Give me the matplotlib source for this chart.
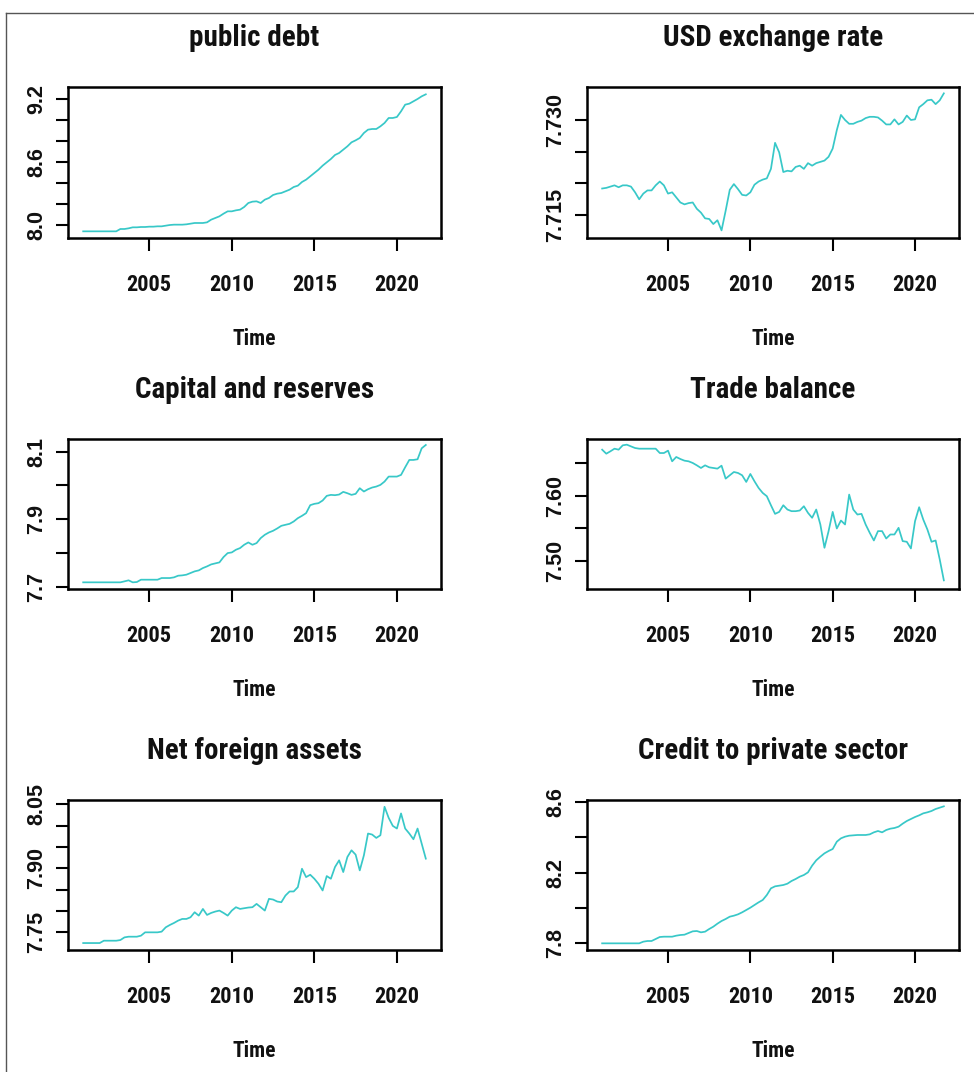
import numpy as np
import matplotlib
matplotlib.use("Agg")
import matplotlib.pyplot as plt
from matplotlib.lines import Line2D

# ---- data (quarterly, 2001Q1 - 2021Q4) ----
start_year = 2001.0
freq = 4

public_debt = [7.9365, 7.9365, 7.9365, 7.9365, 7.9365, 7.9365, 7.9365, 7.9365, 7.9365, 7.9587,
               7.9587, 7.9651, 7.9746, 7.9746, 7.9778, 7.9778, 7.9810, 7.9810, 7.9841, 7.9841,
               7.9905, 7.9968, 8.0000, 8.0000, 8.0000, 8.0032, 8.0095, 8.0159, 8.0159, 8.0159,
               8.0222, 8.0476, 8.0635, 8.0794, 8.1048, 8.1270, 8.1270, 8.1365, 8.1429, 8.1683,
               8.2063, 8.2190, 8.2222, 8.2063, 8.2381, 8.2540, 8.2825, 8.2952, 8.3016, 8.3175,
               8.3333, 8.3587, 8.3714, 8.4063, 8.4286, 8.4603, 8.4921, 8.5238, 8.5619, 8.5937,
               8.6254, 8.6635, 8.6825, 8.7143, 8.7460, 8.7841, 8.8032, 8.8254, 8.8730, 8.9048,
               8.9111, 8.9111, 8.9365, 8.9683, 9.0159, 9.0159, 9.0254, 9.0794, 9.1429, 9.1524,
               9.1746, 9.1968, 9.2222, 9.2413]

usd_rate = [7.7192, 7.7193, 7.7195, 7.7197, 7.7194, 7.7197, 7.7197, 7.7195, 7.7186, 7.7175,
            7.7184, 7.7189, 7.7189, 7.7197, 7.7203, 7.7197, 7.7184, 7.7186, 7.7178, 7.7170,
            7.7167, 7.7169, 7.7170, 7.7160, 7.7154, 7.7145, 7.7144, 7.7136, 7.7142, 7.7126,
            7.7157, 7.7190, 7.7199, 7.7191, 7.7182, 7.7181, 7.7186, 7.7198, 7.7203, 7.7206,
            7.7208, 7.7223, 7.7264, 7.7249, 7.7218, 7.7220, 7.7219, 7.7226, 7.7228, 7.7223,
            7.7232, 7.7228, 7.7232, 7.7234, 7.7236, 7.7242, 7.7255, 7.7284, 7.7308, 7.7300,
            7.7294, 7.7294, 7.7297, 7.7299, 7.7303, 7.7305, 7.7305, 7.7304, 7.7299, 7.7293,
            7.7293, 7.7301, 7.7293, 7.7297, 7.7307, 7.7300, 7.7301, 7.7320, 7.7325, 7.7331,
            7.7332, 7.7325, 7.7331, 7.7342]

capital_reserves = [7.7138, 7.7138, 7.7138, 7.7138, 7.7138, 7.7138, 7.7138, 7.7138, 7.7138, 7.7138,
                    7.7167, 7.7197, 7.7138, 7.7147, 7.7216, 7.7216, 7.7216, 7.7216, 7.7216, 7.7265,
                    7.7265, 7.7265, 7.7285, 7.7334, 7.7344, 7.7364, 7.7413, 7.7462, 7.7491, 7.7560,
                    7.7609, 7.7668, 7.7698, 7.7727, 7.7885, 7.8002, 7.8022, 7.8101, 7.8150, 7.8248,
                    7.8317, 7.8248, 7.8297, 7.8445, 7.8543, 7.8612, 7.8661, 7.8730, 7.8808, 7.8838,
                    7.8867, 7.8936, 7.9034, 7.9103, 7.9182, 7.9418, 7.9457, 7.9477, 7.9555, 7.9693,
                    7.9722, 7.9713, 7.9732, 7.9811, 7.9771, 7.9722, 7.9752, 7.9919, 7.9821, 7.9889,
                    7.9939, 7.9968, 8.0017, 8.0115, 8.0263, 8.0263, 8.0263, 8.0312, 8.0538, 8.0754,
                    8.0754, 8.0774, 8.1098, 8.1197]

trade_balance = [7.6697, 7.6636, 7.6672, 7.6712, 7.6697, 7.6763, 7.6773, 7.6747, 7.6722, 7.6712,
                 7.6712, 7.6712, 7.6712, 7.6712, 7.6646, 7.6646, 7.6682, 7.6520, 7.6586, 7.6555,
                 7.6530, 7.6520, 7.6495, 7.6459, 7.6419, 7.6459, 7.6429, 7.6419, 7.6409, 7.6454,
                 7.6257, 7.6308, 7.6358, 7.6343, 7.6308, 7.6207, 7.6328, 7.6217, 7.6116, 7.6040,
                 7.5990, 7.5853, 7.5722, 7.5752, 7.5853, 7.5788, 7.5763, 7.5763, 7.5773, 7.5838,
                 7.5737, 7.5662, 7.5788, 7.5561, 7.5207, 7.5460, 7.5752, 7.5500, 7.5621, 7.5561,
                 7.6015, 7.5788, 7.5712, 7.5722, 7.5561, 7.5434, 7.5318, 7.5460, 7.5460, 7.5348,
                 7.5409, 7.5409, 7.5510, 7.5308, 7.5298, 7.5197, 7.5611, 7.5823, 7.5636, 7.5485,
                 7.5298, 7.5318, 7.5030, 7.4712]

net_foreign_assets = [7.7249, 7.7249, 7.7249, 7.7249, 7.7249, 7.7304, 7.7304, 7.7304, 7.7304, 7.7319,
                      7.7382, 7.7398, 7.7398, 7.7398, 7.7422, 7.7500, 7.7500, 7.7500, 7.7500, 7.7516,
                      7.7618, 7.7673, 7.7720, 7.7775, 7.7814, 7.7814, 7.7853, 7.7971, 7.7892, 7.8049,
                      7.7908, 7.7955, 7.7987, 7.8010, 7.7955, 7.7892, 7.8010, 7.8089, 7.8049, 7.8065,
                      7.8081, 7.8089, 7.8167, 7.8089, 7.8010, 7.8285, 7.8269, 7.8222, 7.8206, 7.8363,
                      7.8458, 7.8458, 7.8560, 7.8991, 7.8795, 7.8850, 7.8756, 7.8638, 7.8481, 7.8819,
                      7.8756, 7.9031, 7.9188, 7.8913, 7.9266, 7.9423, 7.9321, 7.8952, 7.9305, 7.9816,
                      7.9792, 7.9713, 7.9776, 8.0443, 8.0184, 7.9996, 7.9933, 8.0287, 7.9933, 7.9816,
                      7.9682, 7.9933, 7.9580, 7.9227]

credit_private = [7.8000, 7.8000, 7.8000, 7.8000, 7.8000, 7.8000, 7.8000, 7.8000, 7.8000, 7.8000,
                  7.8094, 7.8132, 7.8132, 7.8245, 7.8358, 7.8376, 7.8376, 7.8376, 7.8433, 7.8471,
                  7.8489, 7.8584, 7.8678, 7.8696, 7.8621, 7.8659, 7.8809, 7.8941, 7.9111, 7.9261,
                  7.9374, 7.9506, 7.9562, 7.9638, 7.9751, 7.9882, 8.0014, 8.0165, 8.0315, 8.0447,
                  8.0729, 8.1106, 8.1219, 8.1256, 8.1294, 8.1369, 8.1520, 8.1633, 8.1765, 8.1859,
                  8.2009, 8.2386, 8.2687, 8.2894, 8.3082, 8.3214, 8.3327, 8.3741, 8.3929, 8.4024,
                  8.4080, 8.4099, 8.4118, 8.4118, 8.4118, 8.4155, 8.4268, 8.4344, 8.4268, 8.4400,
                  8.4475, 8.4513, 8.4588, 8.4758, 8.4908, 8.5021, 8.5134, 8.5228, 8.5341, 8.5398,
                  8.5473, 8.5586, 8.5661, 8.5737]

titles = ["public debt", "USD exchange rate", "Capital and reserves",
          "Trade balance", "Net foreign assets", "Credit to private sector"]
series = [public_debt, usd_rate, capital_reserves, trade_balance, net_foreign_assets, credit_private]

x_ticks = [2005, 2010, 2015, 2020]
x_tick_labels = ["2005", "2010", "2015", "2020"]

y_ticks = [
    [8.0, 8.2, 8.4, 8.6, 8.8, 9.0, 9.2],
    [7.715, 7.720, 7.725, 7.730],
    [7.7, 7.8, 7.9, 8.0, 8.1],
    [7.50, 7.55, 7.60, 7.65],
    [7.75, 7.80, 7.85, 7.90, 7.95, 8.00, 8.05],
    [7.8, 8.0, 8.2, 8.4, 8.6],
]
y_tick_labels = [
    ["8.0", "", "", "8.6", "", "", "9.2"],
    ["7.715", "", "", "7.730"],
    ["7.7", "", "7.9", "", "8.1"],
    ["7.50", "", "7.60", ""],
    ["7.75", "", "", "7.90", "", "", "8.05"],
    ["7.8", "", "8.2", "", "8.6"],
]
y_limits = [(7.873, 9.311), (7.7114, 7.7352), (7.6941, 8.1373),
            (7.4581, 7.6859), (7.7086, 8.0602), (7.7624, 8.6094)]
x_limits = (2000.08, 2022.67)
x_label = "Time"

# ---- layout (pixels) ----
W, H = 974, 1072
DPI = 100
col_x = [(68, 441), (587, 959)]
row_y = [(87, 238), (439, 589), (800, 950)]
line_color = "#38c8c8"

fig = plt.figure(figsize=(W / DPI, H / DPI), dpi=DPI)
fig.patch.set_facecolor("white")

narrow_font = ["Roboto Condensed", "Liberation Sans", "DejaVu Sans"]
vert_font = ["Liberation Sans", "DejaVu Sans"]

for k in range(6):
    r, c = divmod(k, 2)
    x0, x1 = col_x[c]
    y0, y1 = row_y[r]
    ax = fig.add_axes([x0 / W, 1 - y1 / H, (x1 - x0) / W, (y1 - y0) / H])
    vals = np.array(series[k])
    t = start_year + np.arange(len(vals)) / freq
    ax.plot(t, vals, color=line_color, lw=1.25)
    ax.set_xlim(*x_limits)
    ax.set_ylim(*y_limits[k])
    ax.set_xticks(x_ticks)
    ax.set_xticklabels(x_tick_labels, fontfamily=narrow_font, fontweight="bold",
                       fontsize=16, color="#111111")
    ax.set_yticks(y_ticks[k])
    ax.set_yticklabels(y_tick_labels[k], fontfamily=vert_font, fontsize=15.5,
                       fontweight="bold", color="#111111", rotation=90, va="center")
    ax.tick_params(axis="x", length=9.5, width=1.5, pad=16.5, direction="out")
    ax.tick_params(axis="y", length=8.5, width=1.5, pad=6.5, direction="out")
    for sp in ax.spines.values():
        sp.set_linewidth(1.8)
        sp.set_color("black")
    xc = (x0 + x1) / 2 / W
    fig.text(xc, 1 - (y0 - 41) / H, titles[k], ha="center", va="baseline",
             fontfamily=narrow_font, fontweight="bold", fontsize=21, color="#111111")
    fig.text(xc, 1 - (y1 + 107) / H, x_label, ha="center", va="baseline",
             fontfamily=narrow_font, fontweight="bold", fontsize=15.5, color="#111111")

# partial outer frame (top and left edges)
fig.add_artist(Line2D([6 / W, 1.0], [1 - 12.5 / H, 1 - 12.5 / H],
                      transform=fig.transFigure, color="#555555", lw=1.0))
fig.add_artist(Line2D([6 / W, 6 / W], [1 - 12.5 / H, 0.0],
                      transform=fig.transFigure, color="#555555", lw=1.0))

fig.savefig("out.png", dpi=DPI, facecolor="white")
